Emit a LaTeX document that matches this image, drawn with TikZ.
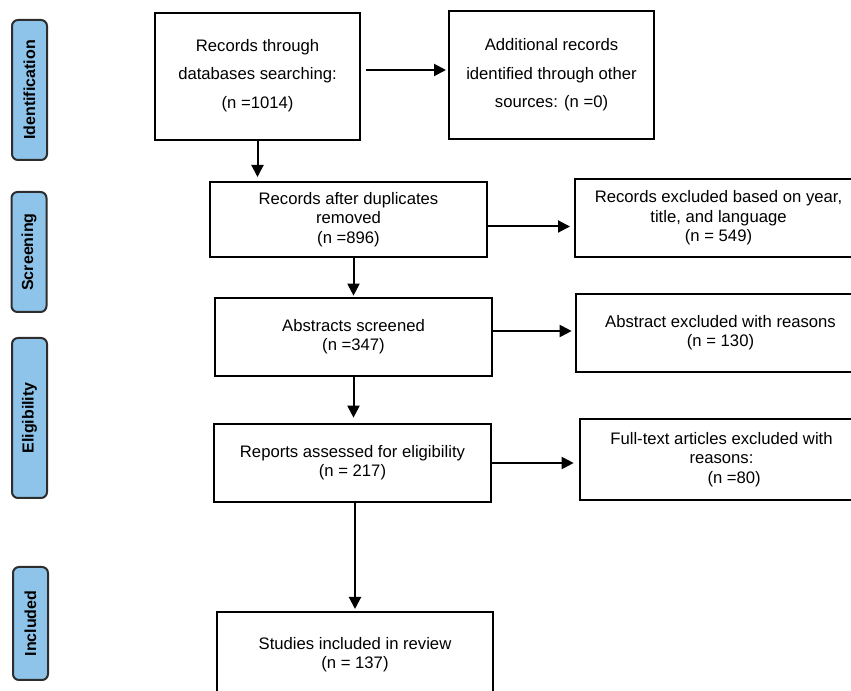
\documentclass[tikz,border=0pt]{standalone}
\usepackage{fontspec}
\setmainfont{Liberation Sans}
\usepackage{tikz}
\usetikzlibrary{arrows.meta,calc}
\definecolor{stageblue}{RGB}{142,196,233}
\definecolor{stageline}{RGB}{45,45,45}

\begin{document}
\begin{tikzpicture}[x=0.75pt,y=0.75pt,yscale=-1,xscale=1,
  flowbox/.style={draw,line width=1.5pt,align=center,inner sep=0.75pt,font=\fontsize{12.5}{14.5}\selectfont},
  widebox/.style={flowbox,font=\fontsize{12.5}{21.5}\selectfont},
  stage/.style={draw=stageline,fill=stageblue,line width=1.5pt,rounded corners=4.5pt,rotate=90,minimum height=26.25pt,inner sep=0pt,font=\fontsize{12}{14}\selectfont\bfseries},
  flowarrow/.style={line width=1.5pt,-{Triangle[length=9pt,width=9pt]}}]

\useasboundingbox (0,0) rectangle (851,691);
\clip (0,0) rectangle (851,691);

\node (ident) at (29.5,90) [stage,minimum width=105pt] {Identification};

\node (screen) at (29,252) [stage,minimum width=90pt] {Screening};

\node (elig) at (29.5,418) [stage,minimum width=120pt] {Eligibility};

\node (incl) at (30.5,623.5) [stage,minimum width=84.75pt] {Included};

\node (db) at (257.5,76.5) [widebox,minimum width=153.75pt,minimum height=95.25pt,text depth=4pt] {Records through\\databases searching:\\(n =1014)};

\node (add) at (551.5,75) [widebox,minimum width=153.75pt,minimum height=96pt,text depth=3pt] {Additional records\\identified through other\\sources: (n =0)};

\node (dup) at (348.5,219.5) [flowbox,minimum width=207.75pt,minimum height=56.25pt] {Records after duplicates\\removed\\(n =896)};

\node (yearx) at (718.5,218) [flowbox,minimum width=215.25pt,minimum height=58.5pt] {Records excluded based on year,\\title, and language\\(n = 549)};

\node (abs) at (353.5,337) [flowbox,minimum width=207.75pt,minimum height=58.5pt] {Abstracts screened\\(n =347)};

\node (absx) at (720.5,333) [flowbox,minimum width=216.75pt,minimum height=58.5pt] {Abstract excluded with reasons\\(n = 130)};

\node (rep) at (352.5,463) [flowbox,minimum width=207.75pt,minimum height=58.5pt] {Reports assessed for eligibility\\(n = 217)};

\node (fullx) at (721.5,459.5) [flowbox,minimum width=212.25pt,minimum height=60.75pt] {Full-text articles excluded with\\reasons:\\\hspace*{19pt}(n =80)};

\node (inc) at (355,655) [flowbox,minimum width=207pt,minimum height=64.5pt] {Studies included in review\\(n = 137)};

\coordinate (dbout) at ($(db.east)+(5,-6.5)$);
\coordinate (dupout) at ($(dup.east)+(0,7)$);
\coordinate (absout) at ($(abs.east)+(0,-6)$);

\draw [flowarrow,shorten >=1.5pt] (dbout) -- (dbout -| add.west);

\draw [flowarrow,shorten >=3pt] (db.south) -- (db.south |- dup.north);

\draw [flowarrow,shorten >=3pt] (dupout) -- (dupout -| yearx.west);

\draw [flowarrow,shorten >=1pt] (dup.south -| abs.north) -- (abs.north);

\draw [flowarrow,shorten >=2.5pt] (absout) -- (absout -| absx.west);

\draw [flowarrow,shorten >=4pt] (abs.south) -- (abs.south |- rep.north);

\draw [flowarrow,shorten >=4pt] (rep.east) -- (rep.east -| fullx.west);

\draw [flowarrow,shorten >=1.5pt] (rep.south -| inc.north) -- (inc.north);
\end{tikzpicture}
\end{document}
